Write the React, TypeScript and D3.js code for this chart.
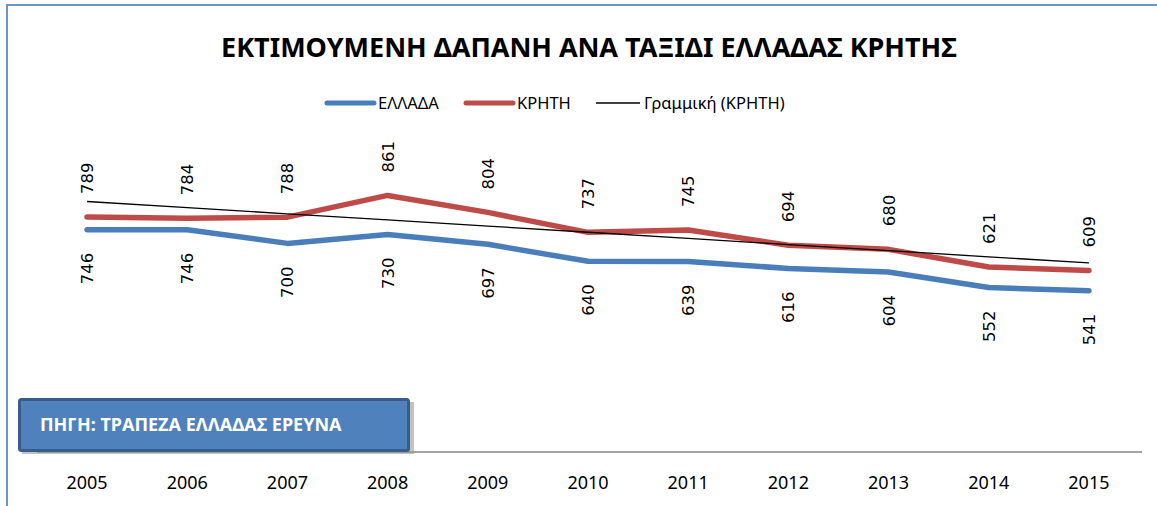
import React, { useRef, useEffect } from "react";
import * as d3 from "d3";

const years = ["2005", "2006", "2007", "2008", "2009", "2010", "2011", "2012", "2013", "2014", "2015"];
const ellada = [746, 746, 700, 730, 697, 640, 639, 616, 604, 552, 541];
const kriti = [789, 784, 788, 861, 804, 737, 745, 694, 680, 621, 609];
const seriesNames = ["ΕΛΛΑΔΑ", "ΚΡΗΤΗ", "Γραμμική (ΚΡΗΤΗ)"];
const title = "ΕΚΤΙΜΟΥΜΕΝΗ ΔΑΠΑΝΗ ΑΝΑ ΤΑΞΙΔΙ ΕΛΛΑΔΑΣ ΚΡΗΤΗΣ";
const source = "ΠΗΓΗ: ΤΡΑΠΕΖΑ ΕΛΛΑΔΑΣ ΕΡΕΥΝΑ";

export default function App() {
    const d3Container = useRef<HTMLDivElement>(null);

    useEffect(() => {
        if (d3Container.current) {
            d3.select(d3Container.current).selectAll("*").remove();
            drawChart();
        }
    }, []);

    const drawChart = () => {
        const width = 1157;
        const height = 506;
        const blue = "#4A7EBB";
        const red = "#BE4B48";
        const font = "'Noto Sans', sans-serif";

        const svg = d3.select(d3Container.current)
            .append("svg")
            .attr("width", width)
            .attr("height", height)
            .style("display", "block")
            .style("background", "#fff");

        // frame (only left and top edges visible)
        svg.append("path")
            .attr("d", `M7,${height} V5 H${width}`)
            .attr("fill", "none")
            .attr("stroke", "#6F95C8")
            .attr("stroke-width", 2);

        const x = d3.scaleBand()
            .domain(years)
            .range([37, 1139]);
        const y = d3.scaleLinear()
            .domain([0, 1000])
            .range([452, 154]);
        const cx = (d: string) => (x(d) as number) + x.bandwidth() / 2;

        // title
        svg.append("text")
            .attr("x", 589)
            .attr("y", 57)
            .attr("text-anchor", "middle")
            .attr("font-family", font)
            .attr("font-weight", "bold")
            .attr("font-size", 27)
            .attr("fill", "#000")
            .text(title);

        // legend
        const legend = [
            { name: seriesNames[0], color: blue, w: 5, x0: 327, x1: 374 },
            { name: seriesNames[1], color: red, w: 5, x0: 466, x1: 513 },
            { name: seriesNames[2], color: "#000", w: 1.3, x0: 596, x1: 640 },
        ];
        const lg = svg.append("g");
        legend.forEach(l => {
            lg.append("line")
                .attr("x1", l.x0).attr("x2", l.x1)
                .attr("y1", 103).attr("y2", 103)
                .attr("stroke", l.color)
                .attr("stroke-width", l.w)
                .attr("stroke-linecap", l.w > 2 ? "round" : "butt");
            lg.append("text")
                .attr("x", l.x1 + 4)
                .attr("y", 109)
                .attr("font-family", font)
                .attr("font-size", 16.5)
                .attr("fill", "#000")
                .text(l.name);
        });

        // x axis line
        svg.append("line")
            .attr("x1", 37).attr("x2", 1142)
            .attr("y1", 452).attr("y2", 452)
            .attr("stroke", "#868686")
            .attr("stroke-width", 1.5);

        svg.append("g")
            .selectAll("text")
            .data(years)
            .join("text")
                .attr("x", d => cx(d))
                .attr("y", 489)
                .attr("text-anchor", "middle")
                .attr("font-family", font)
                .attr("font-size", 18)
                .attr("fill", "#000")
                .text(d => d);

        // linear trend for KRHTH
        const n = kriti.length;
        const xs = d3.range(n);
        const mx = d3.mean(xs) as number;
        const my = d3.mean(kriti) as number;
        const slope = d3.sum(xs, i => (i - mx) * (kriti[i] - my)) / d3.sum(xs, i => (i - mx) ** 2);
        const intercept = my - slope * mx;
        const trend = xs.map(i => intercept + slope * i);

        const line = d3.line<number>()
            .x((d, i) => cx(years[i]))
            .y(d => y(d));

        svg.append("path")
            .datum(ellada)
            .attr("d", line)
            .attr("fill", "none")
            .attr("stroke", blue)
            .attr("stroke-width", 5.5)
            .attr("stroke-linecap", "round")
            .attr("stroke-linejoin", "round");

        svg.append("path")
            .datum(kriti)
            .attr("d", line)
            .attr("fill", "none")
            .attr("stroke", red)
            .attr("stroke-width", 5.5)
            .attr("stroke-linecap", "round")
            .attr("stroke-linejoin", "round");

        svg.append("path")
            .datum(trend)
            .attr("d", line)
            .attr("fill", "none")
            .attr("stroke", "#000")
            .attr("stroke-width", 1.3);

        // data labels (rotated)
        const labelFont = "'DejaVu Sans', sans-serif";
        svg.append("g")
            .selectAll("text")
            .data(kriti)
            .join("text")
                .attr("transform", (d, i) => `translate(${cx(years[i]) + 6},${y(d) - 23}) rotate(-90)`)
                .attr("text-anchor", "start")
                .attr("font-family", labelFont)
                .attr("font-size", 16.5)
                .attr("fill", "#000")
                .text(d => d);

        svg.append("g")
            .selectAll("text")
            .data(ellada)
            .join("text")
                .attr("transform", (d, i) => `translate(${cx(years[i]) + 6},${y(d) + 23}) rotate(-90)`)
                .attr("text-anchor", "end")
                .attr("font-family", labelFont)
                .attr("font-size", 16.5)
                .attr("fill", "#000")
                .text(d => d);

        // source box
        const box = svg.append("g");
        box.append("rect")
            .attr("x", 22).attr("y", 402)
            .attr("width", 392).attr("height", 52)
            .attr("fill", "#9a9a9a")
            .attr("opacity", 0.6);
        box.append("rect")
            .attr("x", 19.5).attr("y", 399.5)
            .attr("width", 389).attr("height", 51)
            .attr("rx", 2)
            .attr("fill", "#4F81BD")
            .attr("stroke", "#385D8A")
            .attr("stroke-width", 3);
        box.append("text")
            .attr("x", 40)
            .attr("y", 431)
            .attr("font-family", font)
            .attr("font-weight", "bold")
            .attr("font-size", 18)
            .attr("fill", "#fff")
            .text(source);
    };

    return (
        <div
            className="d3-container"
            ref={d3Container}
            style={{ position: "absolute", left: 0, top: 0 }}
        ></div>
    );
}
